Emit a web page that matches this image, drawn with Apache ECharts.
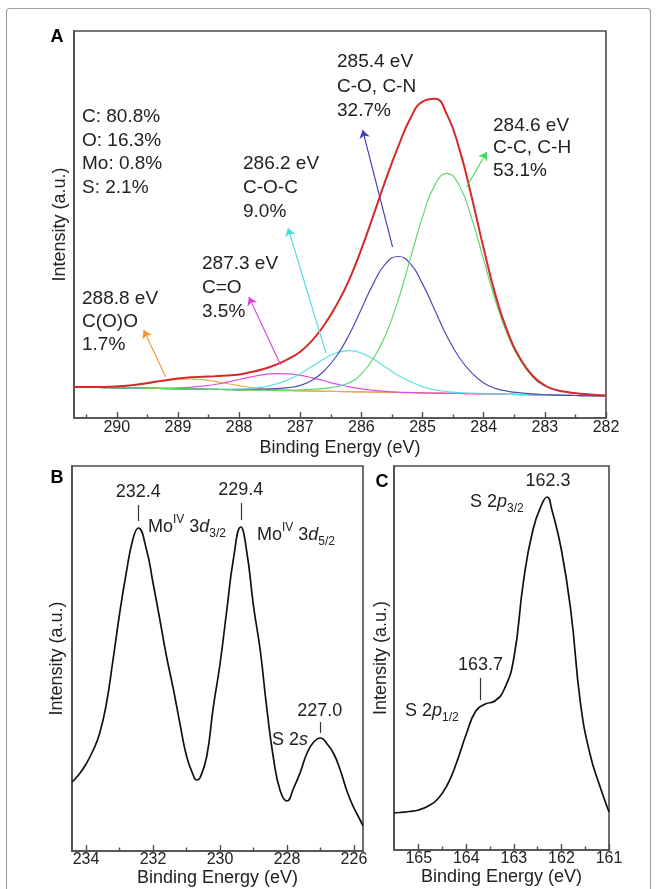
<!DOCTYPE html>
<html>
<head>
<meta charset="utf-8">
<title>XPS spectra</title>
<script src="https://cdn.jsdelivr.net/npm/echarts@6.0.0/dist/echarts.min.js"></script>
<style>
  html, body { margin: 0; padding: 0; background: #fff; }
  #chart { width: 657px; height: 889px; }
</style>
</head>
<body>
<div id="chart"></div>
<script>
// ---------- panel A : C 1s ----------
const energyA = [282.0, 282.2, 282.4, 282.6, 282.8, 283.0, 283.2, 283.4, 283.6, 283.8,
  284.0, 284.2, 284.4, 284.6, 284.8, 285.0, 285.2, 285.4, 285.6, 285.8,
  286.0, 286.2, 286.4, 286.6, 286.8, 287.0, 287.2, 287.4, 287.6, 287.8,
  288.0, 288.2, 288.4, 288.6, 288.8, 289.0, 289.2, 289.4, 289.6, 289.8,
  290.0, 290.2, 290.4, 290.6, 290.7];
const backgroundA = [22.0, 22.2, 22.4, 22.6, 22.8, 23.0, 23.2, 23.4, 23.7, 23.9,
  24.1, 24.3, 24.5, 24.7, 24.9, 25.1, 25.3, 25.5, 25.7, 25.9,
  26.1, 26.3, 26.5, 26.7, 26.9, 27.1, 27.3, 27.6, 27.8, 28.0,
  28.2, 28.4, 28.6, 28.8, 29.0, 29.2, 29.4, 29.6, 29.8, 30.0,
  30.2, 30.4, 30.6, 30.8, 30.9];
const envelopeA = [22.5, 23.2, 24.2, 25.6, 27.8, 32.5, 42.2, 59.2, 84.7, 121.4,
  169.4, 221.8, 269.4, 303.4, 319.2, 316.4, 299.5, 271.1, 238.6, 203.4,
  168.9, 138.2, 113.7, 93.8, 77.9, 66.3, 58.9, 53.2, 49.0, 45.9,
  43.5, 42.4, 41.8, 41.3, 40.7, 39.6, 37.8, 35.9, 33.9, 32.5,
  31.6, 31.1, 30.9, 30.9, 30.9];
const peakCC = [22.5, 23.2, 24.2, 25.6, 27.8, 32.0, 41.2, 57.4, 81.7, 115.9,
  158.1, 200.3, 232.5, 244.7, 232.9, 201.1, 159.3, 117.5, 83.7, 59.9,
  44.1, 35.3, 31.5, 29.7, 28.7, 28.1, 27.8, 27.6, 27.8, 28.0,
  28.2, 28.4, 28.6, 28.8, 29.0, 29.2, 29.4, 29.6, 29.8, 30.0,
  30.2, 30.4, 30.6, 30.8, 30.9];
const peakCO = [22.0, 22.2, 22.4, 22.6, 22.8, 23.5, 24.2, 25.2, 26.7, 29.4,
  35.1, 45.3, 60.5, 81.7, 107.9, 134.1, 154.3, 161.5, 154.7, 134.9,
  109.1, 83.3, 62.5, 47.7, 37.9, 32.6, 30.3, 29.4, 28.8, 28.5,
  28.2, 28.4, 28.6, 28.8, 29.0, 29.2, 29.4, 29.6, 29.8, 30.0,
  30.2, 30.4, 30.6, 30.8, 30.9];
const peakCOC = [22.0, 22.2, 22.4, 22.6, 22.8, 23.0, 23.2, 23.4, 23.7, 23.9,
  24.4, 24.8, 25.4, 26.4, 28.2, 31.4, 36.3, 42.7, 50.7, 58.7,
  64.9, 67.3, 65.3, 59.5, 51.9, 44.3, 38.3, 33.9, 31.1, 29.7,
  29.1, 28.9, 28.9, 28.8, 29.0, 29.2, 29.4, 29.6, 29.8, 30.0,
  30.2, 30.4, 30.6, 30.8, 30.9];
const peakCeqO = [22.0, 22.2, 22.4, 22.6, 22.8, 23.0, 23.2, 23.4, 23.7, 23.9,
  24.1, 24.3, 24.5, 24.7, 24.9, 25.1, 25.5, 25.9, 26.6, 27.6,
  29.1, 31.2, 33.9, 37.0, 40.1, 42.6, 44.1, 44.4, 43.3, 41.2,
  38.5, 35.8, 33.5, 31.8, 30.7, 30.1, 29.8, 29.8, 29.8, 30.0,
  30.2, 30.4, 30.6, 30.8, 30.9];
const peakCOO = [22.0, 22.2, 22.4, 22.6, 22.8, 23.0, 23.2, 23.4, 23.7, 23.9,
  24.1, 24.3, 24.5, 24.7, 24.9, 25.1, 25.3, 25.5, 25.7, 25.9,
  26.1, 26.3, 26.5, 26.7, 26.9, 27.1, 27.6, 28.3, 29.2, 30.5,
  32.3, 34.5, 36.6, 38.3, 39.0, 38.7, 37.4, 35.7, 33.9, 32.5,
  31.6, 31.1, 30.9, 30.9, 30.9];
const ticksA = [282, 283, 284, 285, 286, 287, 288, 289, 290];
const minorTicksA = [282.5, 283.5, 284.5, 285.5, 286.5, 287.5, 288.5, 289.5, 290.5];
// arrows: [from, to] in [eV, intensity]
const arrowCOO = [[289.20, 41], [289.56, 88]];
const arrowCeqO = [[287.32, 53], [287.84, 121]];
const arrowCOC = [[286.58, 65], [287.20, 190]];
const arrowCO = [[285.49, 171], [285.98, 288]];
const arrowCC = [[284.28, 231], [283.95, 266]];

// ---------- panel B : Mo 3d ----------
const energyB = [234.42, 234.2, 234.0, 233.8, 233.6, 233.4, 233.2, 233.0, 232.8, 232.6,
  232.44, 232.2, 232.0, 231.8, 231.6, 231.4, 231.2, 231.0, 230.8, 230.7,
  230.6, 230.4, 230.2, 230.0, 229.8, 229.6, 229.38, 229.2, 229.0, 228.8,
  228.6, 228.4, 228.2, 228.0, 227.8, 227.6, 227.4, 227.2, 227.0, 226.8,
  226.6, 226.4, 226.2, 226.0, 225.8, 225.73];
const intensityB = [69, 77, 87, 100, 117, 146, 190, 237, 278, 312,
  323, 302, 268, 232, 195, 163, 128, 95, 76, 71,
  73, 94, 144, 187, 240, 292, 324, 299, 245, 201,
  142, 92, 60, 50, 63, 79, 98, 109, 113, 107,
  97, 80, 59, 43, 30, 25];
const ticksB = [226, 228, 230, 232, 234];
const minorTicksB = [227, 229, 231, 233];
const peakMarksB = [
  { at: 232.44, from: 330, to: 346, text: '232.4', gap: 4 },
  { at: 229.38, from: 331, to: 348, text: '229.4', gap: 4 },
  { at: 227.02, from: 118, to: 129, text: '227.0', gap: 2 }
];

// ---------- panel C : S 2p ----------
const energyC = [165.52, 165.4, 165.2, 165.0, 164.8, 164.6, 164.4, 164.2, 164.0, 163.8,
  163.6, 163.4, 163.2, 163.0, 162.8, 162.6, 162.4, 162.3, 162.2, 162.0,
  161.8, 161.6, 161.4, 161.2, 161.0];
const intensityC = [37, 37.5, 38.5, 40, 44, 51, 65, 88, 116, 139,
  146, 149, 161, 192, 268, 320, 347, 353, 340, 300,
  238, 147, 96, 65, 38];
const ticksC = [161, 162, 163, 164, 165];
const minorTicksC = [161.5, 162.5, 163.5, 164.5];
const peakMarksC = [
  { at: 163.70, from: 150, to: 172, text: '163.7', gap: 4 }
];

const FONT = '"Liberation Sans", Arial, Helvetica, sans-serif';
const AXIS_COLOR = '#4d4d4d';
const TEXT_COLOR = '#222';

function pairs(xs, ys) {
  return xs.map((x, i) => [x, ys[i]]);
}

function majorX(gridIndex, min, max, ticks, nameGap, margin) {
  return {
    type: 'value', gridIndex, min, max, inverse: true, position: 'bottom',
    name: 'Binding Energy (eV)', nameLocation: 'middle', nameGap, nameMoveOverlap: false,
    nameTextStyle: { fontSize: 18, color: TEXT_COLOR, fontFamily: FONT },
    axisLine: { show: true, onZero: false, lineStyle: { color: AXIS_COLOR, width: 1.6 } },
    axisTick: { show: true, inside: true, length: 6, customValues: ticks,
      lineStyle: { color: AXIS_COLOR, width: 1.4 } },
    axisLabel: { show: true, customValues: ticks, margin, fontSize: 16,
      color: TEXT_COLOR, fontFamily: FONT },
    splitLine: { show: false }
  };
}

function minorX(gridIndex, min, max, ticks) {
  return {
    type: 'value', gridIndex, min, max, inverse: true, position: 'bottom',
    axisLine: { show: false },
    axisTick: { show: true, inside: true, length: 3.5, customValues: ticks,
      lineStyle: { color: AXIS_COLOR, width: 1.4 } },
    axisLabel: { show: false },
    splitLine: { show: false }
  };
}

function intensityY(gridIndex, max, nameGap) {
  return {
    type: 'value', gridIndex, min: 0, max, position: 'left',
    name: 'Intensity (a.u.)', nameLocation: 'middle', nameGap, nameMoveOverlap: false,
    nameTextStyle: { fontSize: 18, color: TEXT_COLOR, fontFamily: FONT },
    axisLine: { show: true, onZero: false, lineStyle: { color: AXIS_COLOR, width: 1.6 } },
    axisTick: { show: false },
    axisLabel: { show: false },
    splitLine: { show: false }
  };
}

function curve(name, xIdx, yIdx, xs, ys, color, width, z) {
  return {
    name, type: 'line', xAxisIndex: xIdx, yAxisIndex: yIdx,
    data: pairs(xs, ys), smooth: 0.5, symbol: 'none', silent: true,
    lineStyle: { color, width }, itemStyle: { color }, z
  };
}

function arrow(seg, color) {
  return {
    silent: true, symbol: ['none', 'arrow'], symbolSize: 8,
    lineStyle: { color, width: 1.1, type: 'solid' },
    label: { show: false },
    data: [[{ coord: seg[0] }, { coord: seg[1] }]]
  };
}

function peakTicks(marks) {
  return {
    silent: true, symbol: ['none', 'none'],
    lineStyle: { color: '#333', width: 1.2, type: 'solid' },
    label: { show: true, position: 'end', formatter: '{b}', fontSize: 18,
      color: TEXT_COLOR, fontFamily: FONT },
    data: marks.map(m => [
      { coord: [m.at, m.from], name: m.text, label: { distance: m.gap } },
      { coord: [m.at, m.to] }
    ])
  };
}

const richStyle = {
  n: { fontSize: 18, fontFamily: FONT, fill: TEXT_COLOR, lineHeight: 26, verticalAlign: 'middle' },
  it: { fontSize: 18, fontFamily: FONT, fontStyle: 'italic', fill: TEXT_COLOR, lineHeight: 26, verticalAlign: 'middle' },
  sup: { fontSize: 12, fontFamily: FONT, fill: TEXT_COLOR, lineHeight: 14, verticalAlign: 'top' },
  sub: { fontSize: 12, fontFamily: FONT, fill: TEXT_COLOR, lineHeight: 14, verticalAlign: 'bottom' }
};

function richText(x, y, text) {
  return { type: 'text', x, y, silent: true,
    style: { text, rich: richStyle, align: 'left', verticalAlign: 'middle' } };
}

function block(x, top, text, lineHeight) {
  return { type: 'text', x, y: top, silent: true,
    style: { text, fontSize: 19, fontFamily: FONT, fill: TEXT_COLOR, lineHeight,
      align: 'left', verticalAlign: 'top' } };
}

function plain(x, y, text, size, weight) {
  return { type: 'text', x, y, silent: true,
    style: { text, fontSize: size, fontWeight: weight || 'normal', fontFamily: FONT,
      fill: weight === 'bold' ? '#000' : TEXT_COLOR, align: 'center', verticalAlign: 'middle' } };
}

const chart = echarts.init(document.getElementById('chart'));

const cooSeries = curve('C(O)O', 0, 0, energyA, peakCOO, '#f2a540', 1.2, 3);
cooSeries.markLine = arrow(arrowCOO, '#f0962a');
const ceqoSeries = curve('C=O', 0, 0, energyA, peakCeqO, '#e04ee0', 1.2, 3);
ceqoSeries.markLine = arrow(arrowCeqO, '#e040e0');
const cocSeries = curve('C-O-C', 0, 0, energyA, peakCOC, '#60e0e0', 1.2, 3);
cocSeries.markLine = arrow(arrowCOC, '#4fdcdc');
const coSeries = curve('C-O, C-N', 0, 0, energyA, peakCO, '#4c4cb8', 1.2, 3);
coSeries.markLine = arrow(arrowCO, '#4040b8');
const ccSeries = curve('C-C, C-H', 0, 0, energyA, peakCC, '#62d86c', 1.2, 3);
ccSeries.markLine = arrow(arrowCC, '#4cd45a');

const moSeries = curve('Mo 3d', 2, 1, energyB, intensityB, '#111', 1.7, 3);
moSeries.markLine = peakTicks(peakMarksB);
const sSeries = curve('S 2p', 4, 2, energyC, intensityC, '#111', 1.7, 3);
sSeries.markLine = peakTicks(peakMarksC);

const option = {
  animation: false,
  backgroundColor: '#fff',
  textStyle: { fontFamily: FONT },
  grid: [
    { left: 74, top: 31, width: 532, height: 387, show: true, borderColor: AXIS_COLOR, borderWidth: 1.6, outerBoundsMode: 'none' },
    { left: 72, top: 466, width: 291, height: 385, show: true, borderColor: AXIS_COLOR, borderWidth: 1.6, outerBoundsMode: 'none' },
    { left: 394, top: 466, width: 215, height: 384, show: true, borderColor: AXIS_COLOR, borderWidth: 1.6, outerBoundsMode: 'none' }
  ],
  xAxis: [
    majorX(0, 282, 290.7, ticksA, 21, 2),
    minorX(0, 282, 290.7, minorTicksA),
    majorX(1, 225.73, 234.42, ticksB, 18, 1),
    minorX(1, 225.73, 234.42, minorTicksB),
    majorX(2, 161, 165.52, ticksC, 18, 1),
    minorX(2, 161, 165.52, minorTicksC)
  ],
  yAxis: [
    intensityY(0, 387, 5),
    intensityY(1, 385, 6),
    intensityY(2, 384, 4)
  ],
  series: [
    curve('background', 0, 0, energyA, backgroundA, '#ecb24a', 1.2, 2),
    cooSeries,
    ceqoSeries,
    cocSeries,
    coSeries,
    ccSeries,
    curve('envelope', 0, 0, energyA, envelopeA, '#d42a2a', 2, 4),
    moSeries,
    sSeries
  ],
  graphic: [
    { type: 'rect', silent: true, shape: { x: 6.5, y: 8.5, width: 644, height: 892, r: 3 },
      style: { fill: 'none', stroke: '#a0a0a0', lineWidth: 1.2 } },
    plain(57, 37, 'A', 18, 'bold'),
    plain(57, 478, 'B', 18, 'bold'),
    plain(382, 482, 'C', 18, 'bold'),
    block(82, 105, 'C: 80.8%\nO: 16.3%\nMo: 0.8%\nS: 2.1%', 23.7),
    block(337, 50, '285.4 eV\nC-O, C-N\n32.7%', 24.5),
    block(493, 114, '284.6 eV\nC-C, C-H\n53.1%', 22.7),
    block(243, 152, '286.2 eV\nC-O-C\n9.0%', 24),
    block(202, 252, '287.3 eV\nC=O\n3.5%', 24),
    block(82, 287, '288.8 eV\nC(O)O\n1.7%', 23),
    richText(148, 527, '{n|Mo}{sup|IV}{n| 3}{it|d}{sub|3/2}'),
    richText(257, 535, '{n|Mo}{sup|IV}{n| 3}{it|d}{sub|5/2}'),
    richText(272, 740, '{n|S 2}{it|s}'),
    plain(548, 481, '162.3', 18),
    richText(470, 502, '{n|S 2}{it|p}{sub|3/2}'),
    richText(405, 711, '{n|S 2}{it|p}{sub|1/2}')
  ]
};

chart.setOption(option);
</script>
</body>
</html>
